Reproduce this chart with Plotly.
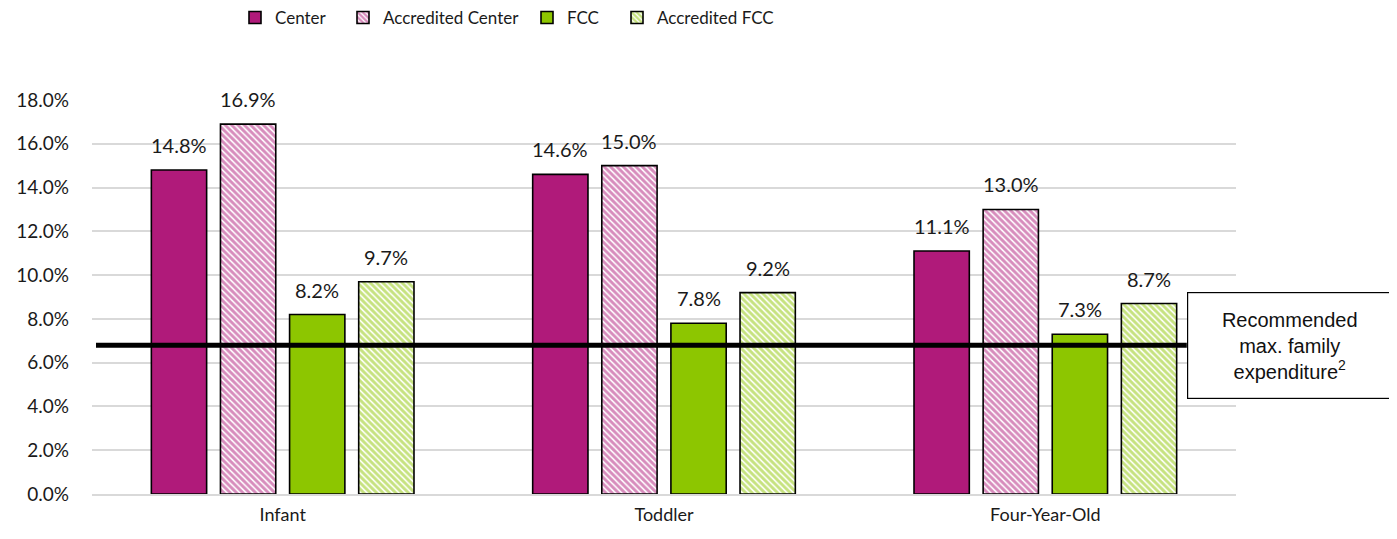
import plotly.graph_objects as go

categories = ["Infant", "Toddler", "Four-Year-Old"]
series_names = ["Center", "Accredited Center", "FCC", "Accredited FCC"]
center = [14.8, 14.6, 11.1]
acc_center = [16.9, 15.0, 13.0]
fcc = [8.2, 7.8, 7.3]
acc_fcc = [9.7, 9.2, 8.7]
recommended = 6.8
tick_vals = [0, 2, 4, 6, 8, 10, 12, 14, 16, 18]
tick_text = [f"{v:.1f}%" for v in tick_vals]

purple = "#B01A7A"
green = "#8DC600"
font_main = "Lato, 'Open Sans', sans-serif"

# page body adds an 8px offset; margins compensate
L_MARGIN, R_MARGIN, T_MARGIN, B_MARGIN = 84, 169, 92, 53
W, H = 1397, 539
plot_w = W - L_MARGIN - R_MARGIN
plot_h = H - T_MARGIN - B_MARGIN
BARGAP = 0.275
BARGROUPGAP = 0.2
n_series = 4
slot_px = plot_w / len(categories) * (1 - BARGAP) / n_series

legend_text_px = [267, 375, 559, 649]
legend_ids = ["legend", "legend2", "legend3", "legend4"]

fig = go.Figure()
specs = [
    (series_names[0], center, purple, ""),
    (series_names[1], acc_center, purple, "\\"),
    (series_names[2], fcc, green, ""),
    (series_names[3], acc_fcc, green, "\\"),
]
for i, (name, vals, col, pat) in enumerate(specs):
    if pat:
        marker = dict(color="white", line=dict(color="black", width=1.6),
                      pattern=dict(shape=pat, fgcolor=col, bgcolor="white", size=4.5,
                                   solidity=0.65, fillmode="overlay"))
    else:
        marker = dict(color=col, line=dict(color="black", width=1.6))
    fig.add_trace(go.Bar(
        name=name, x=categories, y=vals, marker=marker,
        legend=legend_ids[i], hoverinfo="x+y",
    ))
    offset = (i - (n_series - 1) / 2) * slot_px
    for cat, v in zip(categories, vals):
        fig.add_annotation(x=cat, y=v, xref="x", yref="y", xshift=offset, yshift=25,
                           xanchor="center", yanchor="middle", showarrow=False,
                           text=f"{v:.1f}%",
                           font=dict(size=20, color="#1a1a1a", family=font_main))

fig.add_shape(type="line", xref="paper", yref="y", x0=0.0035, x1=0.957,
              y0=recommended, y1=recommended, line=dict(color="black", width=5))

fig.add_annotation(xref="paper", yref="y", x=(1281.5 - L_MARGIN) / plot_w, y=recommended,
                   xanchor="center", yanchor="middle",
                   text="Recommended<br>max. family<br>expenditure<sup>2</sup>",
                   showarrow=False, bordercolor="black", borderwidth=1.2,
                   bgcolor="white", width=201, height=103,
                   font=dict(family="Liberation Sans, Arial", size=20, color="#111111"))

legend_common = dict(orientation="h", yanchor="middle", y=1 + (T_MARGIN - 10) / plot_h,
                     xanchor="left", font=dict(size=17, family=font_main, color="#1a1a1a"),
                     itemwidth=30, bgcolor="rgba(0,0,0,0)")
legends = {}
for lid, px in zip(legend_ids, legend_text_px):
    legends[lid] = dict(legend_common, x=(px - 40 - L_MARGIN) / plot_w)

fig.update_layout(
    width=W, height=H,
    margin=dict(l=L_MARGIN, r=R_MARGIN, t=T_MARGIN, b=B_MARGIN, autoexpand=False),
    plot_bgcolor="white", paper_bgcolor="white",
    barmode="group", bargap=BARGAP, bargroupgap=BARGROUPGAP,
    font=dict(family=font_main, size=18, color="#1a1a1a"),
    showlegend=True,
    **legends,
)
fig.update_yaxes(range=[0, 18], tickvals=tick_vals, ticktext=tick_text,
                 showgrid=True, gridcolor="#D9D9D9", gridwidth=1.5, zeroline=False,
                 showline=False, ticks="", ticklabelstandoff=22, tickfont=dict(size=19))
fig.update_xaxes(showline=True, linecolor="#D9D9D9", linewidth=1.5, ticks="", showgrid=False,
                 tickfont=dict(size=18), ticklabelstandoff=4)

fig.write_html("out.html")
